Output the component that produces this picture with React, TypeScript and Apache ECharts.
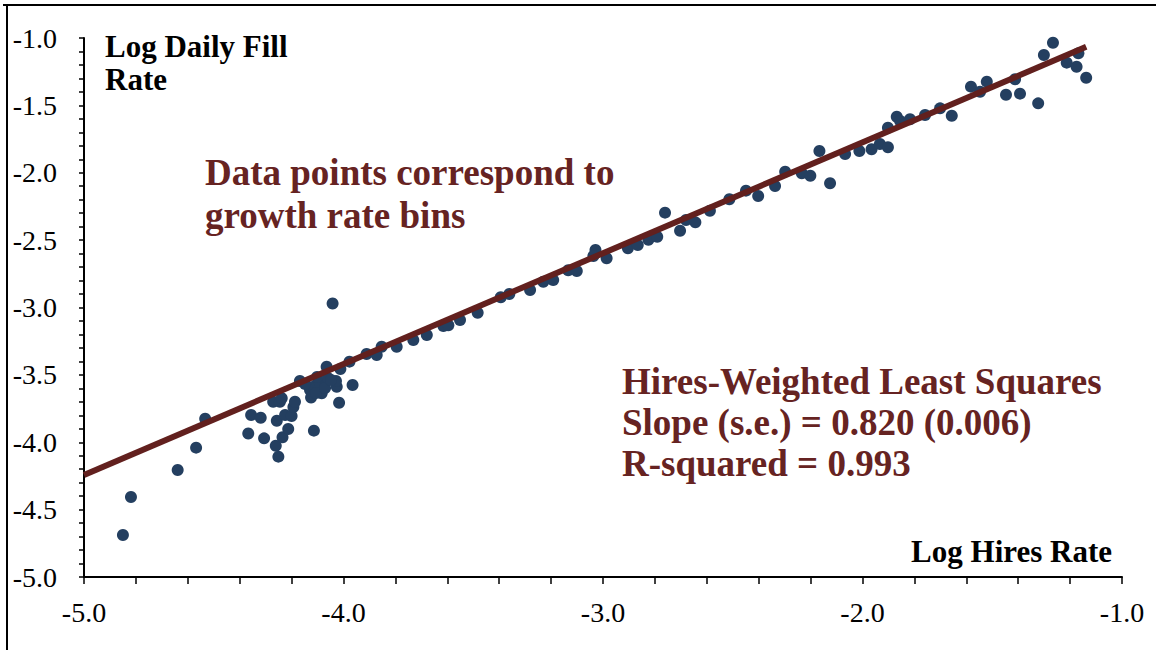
import React, { useEffect, useRef } from "react";
import * as echarts from "echarts";

// Log hires rate (x) and log daily fill rate (y) for each growth-rate bin
const hireRate = [
  -4.850, -4.819, -4.639, -4.568, -4.533, -4.367, -4.356, -4.319, -4.306, -4.261,
  -4.251, -4.257, -4.235, -4.213, -4.225, -4.200, -4.193, -4.187, -4.271, -4.245,
  -4.238, -4.168, -4.129, -4.125, -4.116, -4.091, -4.084, -4.065, -4.059, -4.026,
  -4.029, -4.017, -4.012, -4.114, -3.977, -3.965, -3.911, -3.872, -4.042, -4.148,
  -4.102, -4.106, -4.071, -4.048,
  -3.853, -3.795, -3.731, -3.679, -3.615, -3.596, -3.551, -3.483, -3.394, -3.361,
  -3.281, -3.230, -3.192, -3.134, -3.101, -3.029, -3.037, -2.986, -2.904, -2.866,
  -2.825, -2.791, -2.761, -2.703, -2.680, -2.644, -2.588, -2.513, -2.449, -2.402,
  -2.337, -2.298, -2.234, -2.201, -2.166, -2.125, -2.067, -2.012, -1.965, -1.933,
  -1.902, -1.902, -1.868, -1.855, -1.817, -1.759, -1.701, -1.656, -1.582, -1.547,
  -1.521, -1.447, -1.412, -1.393, -1.323, -1.301, -1.266, -1.213, -1.175, -1.168,
  -1.138,
];
const fillRate = [
  -4.688, -4.406, -4.206, -4.040, -3.825, -3.935, -3.798, -3.818, -3.971, -4.026,
  -4.107, -3.840, -3.963, -3.902, -3.798, -3.805, -3.738, -3.699, -3.699, -3.699,
  -3.674, -3.545, -3.612, -3.668, -3.588, -3.563, -3.637, -3.439, -3.525, -3.588,
  -3.545, -3.707, -3.456, -3.914, -3.402, -3.575, -3.345, -3.353, -2.970, -3.568,
  -3.516, -3.634, -3.597, -3.538,
  -3.291, -3.291, -3.241, -3.204, -3.137, -3.132, -3.093, -3.039, -2.924, -2.900,
  -2.870, -2.809, -2.796, -2.724, -2.729, -2.573, -2.618, -2.635, -2.561, -2.536,
  -2.497, -2.475, -2.296, -2.430, -2.351, -2.368, -2.282, -2.197, -2.133, -2.173,
  -2.098, -1.992, -2.004, -2.022, -1.839, -2.078, -1.861, -1.839, -1.826, -1.787,
  -1.811, -1.666, -1.584, -1.616, -1.603, -1.571, -1.522, -1.577, -1.361, -1.399,
  -1.324, -1.421, -1.306, -1.413, -1.485, -1.126, -1.035, -1.183, -1.213, -1.114,
  -1.295,
];

// Fitted line end points (hires-weighted least squares)
const fitX = [-5.0, -1.138];
const fitY = [-4.243, -1.065];

const xTicks = { min: -5, max: -1, step: 1 };
const yTicks = { min: -5, max: -1, step: 0.5 };

const yName = "Log Daily Fill\nRate";
const xName = "Log Hires Rate";
const note1 = "Data points correspond to\ngrowth rate bins";
const note2 = "Hires-Weighted Least Squares\nSlope (s.e.) = 0.820 (0.006)\nR-squared = 0.993";

const SERIF = "'Liberation Serif', 'Times New Roman', serif";
const DARK_RED = "#662322";

export default function App() {
  const ref = useRef<HTMLDivElement>(null);

  useEffect(() => {
    if (!ref.current) return;
    const chart = echarts.init(ref.current, null, { renderer: "svg" });
    const axisCommon = {
      type: "value" as const,
      splitLine: { show: false },
      axisLine: { show: true, onZero: false, lineStyle: { color: "#000", width: 2 } },
      axisTick: { show: true, lineStyle: { color: "#000", width: 1.5 } },
      minorTick: { show: true, splitNumber: 5, lineStyle: { color: "#000", width: 1.5 } },
      axisLabel: {
        color: "#000",
        fontFamily: SERIF,
        fontSize: 28,
        formatter: (v: number) => v.toFixed(1),
      },
    };
    chart.setOption({
      animation: false,
      backgroundColor: "#fff",
      grid: { left: 84, right: 34, top: 38, bottom: 73, containLabel: false, outerBoundsMode: "none" },
      xAxis: {
        ...axisCommon,
        min: xTicks.min,
        max: xTicks.max,
        interval: xTicks.step,
        axisTick: { ...axisCommon.axisTick, length: 7 },
        minorTick: { ...axisCommon.minorTick, length: 7 },
        axisLabel: { ...axisCommon.axisLabel, margin: 21 },
      },
      yAxis: {
        ...axisCommon,
        min: yTicks.min,
        max: yTicks.max,
        interval: yTicks.step,
        axisTick: { ...axisCommon.axisTick, length: 5 },
        minorTick: { ...axisCommon.minorTick, length: 5 },
        axisLabel: { ...axisCommon.axisLabel, margin: 27 },
      },
      series: [
        {
          type: "scatter",
          symbol: "circle",
          symbolSize: 12,
          itemStyle: { color: "#243f60", opacity: 1 },
          data: hireRate.map((x, i) => [x, fillRate[i]]),
          z: 2,
        },
        {
          type: "line",
          showSymbol: false,
          symbol: "none",
          lineStyle: { color: "#62201e", width: 6, cap: "butt" },
          data: fitX.map((x, i) => [x, fitY[i]]),
          z: 3,
        },
      ],
      graphic: [
        { type: "line", shape: { x1: 3, y1: 5, x2: 1156, y2: 5 }, style: { stroke: "#000", lineWidth: 2 } },
        { type: "line", shape: { x1: 7, y1: 5, x2: 7, y2: 650 }, style: { stroke: "#000", lineWidth: 2 } },
        {
          type: "text",
          left: 105,
          top: 30,
          style: { text: yName, fontFamily: SERIF, fontWeight: "bold", fontSize: 31, lineHeight: 33, fill: "#000" },
        },
        {
          type: "text",
          right: 44,
          top: 536,
          style: { text: xName, fontFamily: SERIF, fontWeight: "bold", fontSize: 31, lineHeight: 31, fill: "#000" },
        },
        {
          type: "text",
          left: 205,
          top: 151,
          style: { text: note1, fontFamily: SERIF, fontWeight: "bold", fontSize: 37, lineHeight: 43, fill: DARK_RED },
        },
        {
          type: "text",
          left: 622,
          top: 361,
          style: { text: note2, fontFamily: SERIF, fontWeight: "bold", fontSize: 37, lineHeight: 41, fill: DARK_RED },
        },
      ],
    });
    return () => chart.dispose();
  }, []);

  return (
    <div
      ref={ref}
      style={{ position: "fixed", left: 0, top: 0, width: 1156, height: 650, background: "#fff" }}
    />
  );
}
